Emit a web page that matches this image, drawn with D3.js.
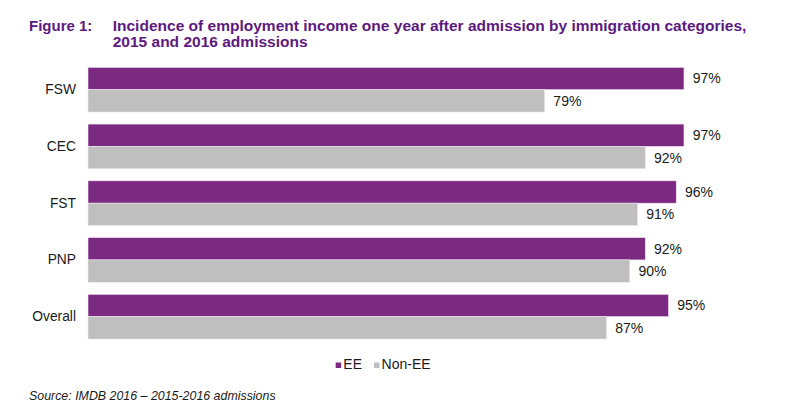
<!DOCTYPE html>
<html>
<head>
<meta charset="utf-8">
<script src="https://cdn.jsdelivr.net/npm/d3@7"></script>
<style>
  html, body { margin: 0; padding: 0; background: #fff; }
  svg { display: block; font-family: "Liberation Sans", Arial, sans-serif; }
</style>
</head>
<body>
<svg id="chart" width="800" height="411"></svg>
<script>
const categories = ["FSW", "CEC", "FST", "PNP", "Overall"];
const seriesNames = ["EE", "Non-EE"];
const eeValues = [97, 97, 96, 92, 95];
const nonEeValues = [79, 92, 91, 90, 87];
const titleLines = [
  "Incidence of employment income one year after admission by immigration categories,",
  "2015 and 2016 admissions"
];
const figureLabel = "Figure 1:";
const sourceText = "Source: IMDB 2016 \u2013 2015-2016 admissions";

const colors = { "EE": "#7b2a81", "Non-EE": "#bfbfbf" };

const svg = d3.select("#chart");

const x = d3.scaleLinear().domain([20, 100]).range([88, 707.2]);
const y = d3.scaleBand().domain(categories).range([61.3, 345.05])
  .paddingInner(0.212).paddingOuter(0.106);
const ySub = d3.scaleBand().domain(seriesNames).range([0, y.bandwidth()]);

const rows = categories.map((c, i) => ({
  cat: c,
  vals: [{ s: "EE", v: eeValues[i] }, { s: "Non-EE", v: nonEeValues[i] }]
}));

// Title
const title = svg.append("g").attr("fill", "#5c1a80")
  .attr("font-weight", "bold").attr("font-size", 15);
title.append("text").attr("x", 29).attr("y", 31).text(figureLabel);
const tl = titleLines.map((t, i) =>
  title.append("text").attr("x", 112.7).attr("y", 31 + i * 16).text(t));
// fit first title line to the reference width
const w0 = tl[0].node().getComputedTextLength();
const fs = 15 * 634 / w0;
tl.forEach(t => t.attr("font-size", fs));

// Bars
const g = svg.append("g");
const groups = g.selectAll("g.row").data(rows).join("g")
  .attr("class", "row")
  .attr("transform", d => `translate(0,${y(d.cat)})`);

groups.selectAll("rect").data(d => d.vals).join("rect")
  .attr("x", x(20))
  .attr("y", d => ySub(d.s))
  .attr("width", d => x(d.v) - x(20))
  .attr("height", ySub.bandwidth())
  .attr("fill", d => colors[d.s])
  .attr("stroke", "#f2e6f2").attr("stroke-width", 0.6);

groups.selectAll("text.val").data(d => d.vals).join("text")
  .attr("class", "val")
  .attr("x", d => x(d.v) + 8.7)
  .attr("y", d => ySub(d.s) + ySub.bandwidth() / 2)
  .attr("dy", "0.35em")
  .attr("font-size", 14)
  .attr("fill", "#1a1a1a")
  .text(d => d.v + "%");

// Category axis
const yAxis = d3.axisLeft(y).tickSize(0).tickPadding(12);
const ax = svg.append("g").attr("transform", `translate(${x(20)},0)`).call(yAxis);
ax.select(".domain").remove();
ax.selectAll("text").attr("font-size", 13.8).attr("fill", "#1a1a1a")
  .attr("font-family", "\"Liberation Sans\", Arial, sans-serif");

// Legend
const legend = svg.append("g").attr("font-size", 14).attr("fill", "#1a1a1a");
const legendItems = [
  { s: "EE", x: 335.7 },
  { s: "Non-EE", x: 374 }
];
legendItems.forEach(it => {
  legend.append("rect").attr("x", it.x).attr("y", 362.5).attr("width", 5.5).attr("height", 5.5)
    .attr("fill", colors[it.s]);
  legend.append("text").attr("x", it.x + 7.6).attr("y", 369).text(it.s);
});

// Source
svg.append("text").attr("x", 29).attr("y", 395.5).attr("dy", "0.35em")
  .attr("font-size", 12.4).attr("font-style", "italic").attr("fill", "#1a1a1a")
  .text(sourceText);
</script>
</body>
</html>
